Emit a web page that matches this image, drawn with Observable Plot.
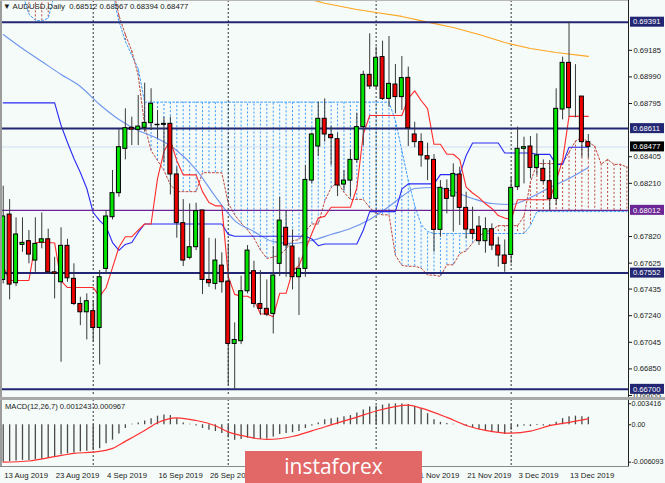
<!DOCTYPE html>
<html><head><meta charset="utf-8">
<script src="https://cdn.jsdelivr.net/npm/d3@7"></script>
<script src="https://cdn.jsdelivr.net/npm/@observablehq/plot@0.6"></script>
<style>
html,body{margin:0;padding:0;background:#f4fbf8;}
#root{position:relative;width:665px;height:483px;overflow:hidden;background:#f4fbf8;font-family:"Liberation Sans",Arial,sans-serif;color:#111;}
#root svg{position:absolute;left:0;}
.abs{position:absolute;}
</style></head><body><div id="root"></div>
<script>
// ---------- data ----------
const dateLabels = ["13 Aug 2019","23 Aug 2019","4 Sep 2019","16 Sep 2019","26 Sep 2019","8 Oct 2019","18 Oct 2019","30 Oct 2019","11 Nov 2019","21 Nov 2019","3 Dec 2019","13 Dec 2019"];
const dateLabelBars = [0,8,16,24,32,40,48,56,64,72,80,88];
const dateLabelShown = [true,true,true,true,true,false,false,false,true,true,true,true]; // three are fully under the watermark
const monthStartBars = [14,35,58,79];
const priceTicks = [0.69185,0.68990,0.68795,0.68405,0.68210,0.67820,0.67625,0.67435,0.67240,0.67045,0.66850,0.66655];
const macdTicks = [0.003416, 0, -0.006093];
const navyLevels = [0.69391,0.68611,0.67552,0.66700];
const purpleLevel = 0.68012;
const bidPrice = 0.68477;

const openP = [
0.67502,0.67981,0.67478,0.67759,0.67786,0.67644,0.67776,0.67800,0.67558,0.67485,
0.67752,0.67510,0.67326,0.67265,0.67273,0.67150,0.67583,0.67962,0.68138,0.68463,
0.68617,0.68602,0.68617,0.68651,0.68639,0.68646,0.68646,0.68275,0.67918,0.67664,
0.67742,0.68011,0.67502,0.67473,0.67607,0.67490,0.67033,0.67053,0.67419,0.67566,
0.67326,0.67290,0.67253,0.67620,0.67884,0.67747,0.67522,0.67583,0.68230,0.68480,
0.68683,0.68565,0.68534,0.68201,0.68230,0.68382,0.68622,0.69005,0.68920,0.69135,
0.68829,0.68934,0.68842,0.68983,0.68568,0.68512,0.68409,0.68382,0.67869,0.68169,
0.68113,0.68275,0.68030,0.67869,0.67893,0.67786,0.67874,0.67754,0.67681,0.67685,
0.68182,0.68463,0.68480,0.68323,0.68316,0.68226,0.68096,0.68751,0.69093,0.68846,
0.68846,0.68512];
const highP = [
0.68189,0.68091,0.67957,0.67957,0.67864,0.67957,0.67993,0.67874,0.67668,0.67884,
0.67800,0.67620,0.67375,0.67400,0.67351,0.67571,0.68011,0.68304,0.68604,0.68756,
0.68695,0.68854,0.68944,0.68903,0.68744,0.68695,0.68695,0.68328,0.68091,0.68059,
0.68064,0.68011,0.67808,0.67803,0.67700,0.67766,0.67187,0.67529,0.67754,0.67639,
0.67571,0.67502,0.67747,0.68108,0.68011,0.67869,0.67664,0.68341,0.68578,0.68805,
0.68829,0.68626,0.68578,0.68304,0.68455,0.68724,0.69032,0.69306,0.69208,0.69252,
0.69286,0.69081,0.69140,0.69062,0.68658,0.68573,0.68504,0.68421,0.68230,0.68235,
0.68353,0.68328,0.68145,0.68035,0.67967,0.67957,0.67913,0.67815,0.67795,0.68255,
0.68622,0.68548,0.68553,0.68573,0.68382,0.68377,0.68903,0.69135,0.69391,0.69080,
0.68846,0.68567];
const lowP = [
0.67473,0.67356,0.67453,0.67705,0.67620,0.67558,0.67730,0.67546,0.67363,0.66899,
0.67485,0.67314,0.67167,0.67062,0.67045,0.66879,0.67546,0.67942,0.68108,0.68382,
0.68487,0.68487,0.68585,0.68597,0.68536,0.68358,0.68125,0.67808,0.67600,0.67649,
0.67717,0.67395,0.67448,0.67429,0.67405,0.66728,0.66700,0.67028,0.67400,0.67297,
0.67241,0.67233,0.67106,0.67527,0.67522,0.67429,0.67241,0.67522,0.68206,0.68406,
0.68512,0.68341,0.68113,0.68157,0.68108,0.68358,0.68487,0.68898,0.68903,0.68817,
0.68768,0.68719,0.68744,0.68480,0.68470,0.68328,0.68230,0.67705,0.67815,0.67986,
0.67852,0.67901,0.67803,0.67795,0.67754,0.67698,0.67717,0.67595,0.67558,0.67620,
0.68157,0.68206,0.68243,0.68267,0.68206,0.68011,0.68047,0.68675,0.68695,0.68690,
0.68400,0.68394];
const closeP = [
0.67967,0.67468,0.67835,0.67774,0.67688,0.67766,0.67800,0.67558,0.67546,0.67752,
0.67514,0.67326,0.67265,0.67346,0.67150,0.67522,0.67967,0.68138,0.68475,0.68614,
0.68604,0.68626,0.68653,0.68793,0.68636,0.68639,0.68275,0.67918,0.67644,0.67742,
0.68006,0.67502,0.67478,0.67644,0.67485,0.67033,0.67062,0.67419,0.67717,0.67326,
0.67290,0.67248,0.67534,0.67937,0.67754,0.67522,0.67583,0.68235,0.68568,0.68683,
0.68568,0.68541,0.68194,0.68230,0.68382,0.68622,0.69005,0.68920,0.69130,0.68829,
0.68939,0.68842,0.68981,0.68614,0.68512,0.68414,0.68385,0.67869,0.68177,0.68096,
0.68279,0.68030,0.67871,0.67839,0.67786,0.67874,0.67754,0.67681,0.67620,0.68177,
0.68463,0.68475,0.68323,0.68414,0.68226,0.68096,0.68756,0.69093,0.68761,0.68846,
0.68512,0.68477];

const tenkan = [
0.67600,0.67498,0.67498,0.67498,0.67498,0.67776,0.67776,0.67776,0.67773,0.67495,
0.67446,0.67446,0.67446,0.67446,0.67446,0.67382,0.67445,0.67592,0.67742,0.67818,
0.67818,0.67867,0.67912,0.67912,0.68245,0.68443,0.68526,0.68376,0.68272,0.68272,
0.68272,0.68149,0.68070,0.68045,0.68045,0.67528,0.67396,0.67382,0.67382,0.67356,
0.67254,0.67252,0.67233,0.67404,0.67404,0.67568,0.67607,0.67724,0.67842,0.67956,
0.67968,0.68035,0.68035,0.68035,0.68035,0.68176,0.68570,0.68707,0.68707,0.68707,
0.68707,0.68707,0.68707,0.68832,0.68888,0.68817,0.68758,0.68496,0.68496,0.68423,
0.68423,0.68384,0.68182,0.68139,0.68105,0.68060,0.68026,0.67974,0.67956,0.67943,
0.68090,0.68090,0.68090,0.68090,0.68090,0.68090,0.68231,0.68378,0.68701,0.68701,
0.68701,0.68701];
const kijun = [
0.68800,0.68800,0.68800,0.68800,0.68800,0.68800,0.68800,0.68800,0.68800,0.68634,
0.68509,0.68392,0.68289,0.68172,0.67996,0.67937,0.67893,0.67776,0.67718,0.67762,
0.67776,0.67850,0.67912,0.67912,0.67912,0.67912,0.67912,0.67912,0.67912,0.67912,
0.67912,0.67912,0.67912,0.67912,0.67912,0.67836,0.67822,0.67822,0.67822,0.67822,
0.67822,0.67822,0.67822,0.67822,0.67822,0.67822,0.67822,0.67822,0.67802,0.67753,
0.67765,0.67765,0.67765,0.67765,0.67765,0.67765,0.67866,0.68003,0.68003,0.68003,
0.68003,0.68003,0.68167,0.68206,0.68206,0.68206,0.68206,0.68206,0.68274,0.68274,
0.68274,0.68274,0.68414,0.68506,0.68506,0.68506,0.68506,0.68506,0.68432,0.68432,
0.68432,0.68432,0.68432,0.68422,0.68422,0.68422,0.68349,0.68349,0.68475,0.68475,
0.68475,0.68475];
const spanA = [
0.69650,0.69650,0.69650,0.69650,0.69650,0.69650,0.69650,0.69650,0.69650,0.69650,
0.69650,0.69650,0.69650,0.69650,0.69650,0.69650,0.69650,0.69650,0.69440,0.69300,
0.69180,0.69000,0.68634,0.68450,0.68377,0.68304,0.68200,0.68149,0.68149,0.68149,
0.68149,0.68288,0.68288,0.68288,0.68287,0.68065,0.67978,0.67919,0.67868,0.67809,
0.67721,0.67660,0.67669,0.67684,0.67730,0.67790,0.67797,0.67859,0.67912,0.67912,
0.68079,0.68178,0.68219,0.68144,0.68092,0.68092,0.68092,0.68031,0.67991,0.67979,
0.67979,0.67682,0.67609,0.67602,0.67602,0.67589,0.67538,0.67537,0.67528,0.67613,
0.67613,0.67695,0.67715,0.67773,0.67822,0.67855,0.67867,0.67900,0.67900,0.67900,
0.67900,0.67971,0.68218,0.68355,0.68355,0.68355,0.68355,0.68355,0.68437,0.68519,
0.68547,0.68512,0.68482,0.68351,0.68385,0.68349,0.68349,0.68329];
const spanB = [
0.69600,0.69600,0.69600,0.69600,0.69450,0.69405,0.69400,0.69420,0.69600,0.69600,
0.69600,0.69600,0.69600,0.69600,0.69600,0.69600,0.69600,0.69600,0.69400,0.69250,
0.69150,0.69050,0.68805,0.68805,0.68805,0.68805,0.68805,0.68805,0.68805,0.68805,
0.68805,0.68805,0.68805,0.68805,0.68805,0.68805,0.68805,0.68805,0.68805,0.68805,
0.68805,0.68805,0.68805,0.68805,0.68805,0.68805,0.68805,0.68805,0.68805,0.68805,
0.68805,0.68805,0.68805,0.68805,0.68805,0.68805,0.68805,0.68805,0.68805,0.68805,
0.68805,0.68670,0.68450,0.68231,0.68047,0.67908,0.67857,0.67842,0.67842,0.67842,
0.67842,0.67842,0.67842,0.67842,0.67842,0.67842,0.67842,0.67842,0.67842,0.67842,
0.67842,0.67842,0.67901,0.68003,0.68003,0.68003,0.68003,0.68003,0.68003,0.68003,
0.68003,0.68003,0.68003,0.68003,0.68003,0.68003,0.68003,0.68003];
const maBlueBars = [0,3,6,9,12,15,18,21,24,27,30,33,36,39,42,45,48,51,54,57,60,62,64,67,70,73,76,79,82,85,88,91];
const maBlueVals = [0.69301,0.69198,0.69103,0.69008,0.68920,0.68788,0.68678,0.68597,0.68538,0.68451,0.68311,0.68113,0.67937,0.67857,0.67783,0.67769,0.67791,0.67835,0.67879,0.67945,0.68040,0.68113,0.68172,0.68179,0.68150,0.68099,0.68062,0.68055,0.68106,0.68179,0.68245,0.68326];
const maOrangeBars = [46,50,55,58,62,66,70,74,78,82,86,91];
const maOrangeVals = [0.69580,0.69530,0.69484,0.69462,0.69433,0.69391,0.69352,0.69301,0.69242,0.69198,0.69169,0.69140];
const macdHist = [
-0.0061,-0.0060,-0.0059,-0.0058,-0.0058,-0.0057,-0.0056,-0.0055,-0.0052,-0.0049,
-0.0047,-0.0046,-0.0044,-0.0043,-0.0042,-0.0039,-0.0031,-0.0025,-0.0015,-0.0006,
0.0001,0.0003,0.0006,0.0010,0.0014,0.0016,0.0015,0.0010,0.0003,0.0001,
-0.0002,-0.0006,-0.0009,-0.0011,-0.0014,-0.0021,-0.0025,-0.0024,-0.0022,-0.0023,
-0.0024,-0.0023,-0.0020,-0.0016,-0.0014,-0.0013,-0.0011,-0.0006,-0.0002,0.0003,
0.0008,0.0010,0.0011,0.0013,0.0015,0.0019,0.0024,0.0029,0.0030,0.0032,
0.0034,0.0034,0.0034,0.0033,0.0030,0.0026,0.0018,0.0008,0.0004,0.0002,
0.0001,0.0000,-0.0003,-0.0005,-0.0008,-0.0010,-0.0011,-0.0013,-0.0016,-0.0009,
-0.0004,-0.0002,-0.0003,-0.0001,-0.0002,-0.0002,0.0004,0.0010,0.0013,0.0014,
0.0013,0.001243];
const signalBars = [0,4,8,11,14,17,19,22,24,27,30,33,35,38,41,45,48,52,55,58,63,65,69,72,75,79,82,85,88,91];
const signalVals = [-0.00609,-0.00590,-0.00520,-0.00465,-0.00446,-0.00385,-0.00270,-0.00093,0.00033,0.00114,0.00070,-0.00015,-0.00115,-0.00195,-0.00239,-0.00191,-0.00100,0.00030,0.00124,0.00225,0.00320,0.00270,0.00120,-0.00011,-0.00090,-0.00137,-0.00104,-0.00015,0.00040,0.000967];

// ---------- tables for the library ----------
const candles = openP.map((o,i)=>({i,o,h:highP[i],l:lowP[i],c:closeP[i]}));
const cloud = spanA.map((a,i)=>({i,a,b:spanB[i]}));
const series = arr => arr.map((v,i)=>({i,v}));
const pairs = (bs,vs) => bs.map((b,k)=>({i:b,v:vs[k]}));
const dateTable = dateLabelBars.map((b,k)=>({i:b,label:dateLabels[k],shown:dateLabelShown[k]})).filter(d=>d.shown);

const GREEN = "#00e400", RED = "#ee0000";
const HATCH_BLUE = "#3d9bff", HATCH_RED = "#c0473f";
const NAVY = "#232773", PURPLE = "#6b2595";
const xDomain = [-0.109, 97.25];
const FONT = "Liberation Sans, Arial, sans-serif";
const baseStyle = {background:"transparent", fontFamily:FONT, fontSize:"7.6px", color:"#1a1a1a", overflow:"visible"};

function boxLabels(items){
  return (index, scales, values, dim) => {
    const g = d3.create("svg:g");
    const x0 = dim.width - dim.marginRight + 1;
    for (const it of items){
      const y = scales.y(it.v);
      g.append("rect").attr("x", x0+1).attr("y", y-5).attr("width", 34).attr("height", 10).attr("fill", it.bg);
      g.append("text").attr("x", x0+4).attr("y", y).attr("dy","0.35em").attr("fill","#fff")
        .attr("text-anchor","start").attr("font-size","7.6px").attr("font-family",FONT).text(it.v.toFixed(5));
    }
    return g.node();
  };
}

const root = document.getElementById("root");

const main = Plot.plot({
  width: 665, height: 396,
  marginLeft: 2, marginRight: 37, marginTop: 0, marginBottom: 1,
  x: {domain: xDomain, axis: null},
  y: {domain: [0.66655, 0.6955], axis: null},
  color: {type: "identity"},
  style: baseStyle,
  marks: [
    Plot.ruleY([bidPrice], {stroke: "#dde7f3", strokeWidth: 1.5}),
    Plot.ruleX(cloud, {x: "i", y1: "a", y2: "b", stroke: d => d.b > d.a ? HATCH_BLUE : HATCH_RED, strokeDasharray: "2,2", strokeWidth: 1, clip: true}),
    Plot.line(cloud, {x: "i", y: "b", stroke: HATCH_BLUE, strokeDasharray: "2,2", strokeWidth: 1, clip: true}),
    Plot.line(cloud, {x: "i", y: "a", stroke: HATCH_RED, strokeDasharray: "2,2", strokeWidth: 1, clip: true}),
    Plot.ruleX(monthStartBars, {x: d => d, stroke: "#333", strokeDasharray: "2,2", strokeWidth: 1}),
    Plot.line(pairs(maOrangeBars, maOrangeVals), {x: "i", y: "v", stroke: "#ffa51f", strokeWidth: 1.2, clip: true}),
    Plot.line(pairs(maBlueBars, maBlueVals), {x: "i", y: "v", stroke: "#6f94f0", strokeWidth: 1.1, curve: "monotone-x", clip: true}),
    Plot.line(series(kijun), {x: "i", y: "v", stroke: "#2a2af5", strokeWidth: 1.1, clip: true}),
    Plot.line(series(tenkan), {x: "i", y: "v", stroke: "#ff2b2b", strokeWidth: 1.1, clip: true}),
    Plot.ruleY([purpleLevel], {stroke: PURPLE, strokeWidth: 1.2}),
    Plot.ruleY(navyLevels, {stroke: NAVY, strokeWidth: 2}),
    Plot.ruleX(candles, {x: "i", y1: "l", y2: "h", stroke: "#3a3a3a", strokeWidth: 1, clip: true}),
    Plot.rect(candles, {x1: d => d.i - 0.31, x2: d => d.i + 0.31, y1: "o", y2: "c",
      fill: d => d.c > d.o ? GREEN : (d.c < d.o ? RED : "#3a3a3a"),
      stroke: d => d.c === d.o ? "#555" : "#000", strokeWidth: 1, clip: true}),
    Plot.axisY({anchor: "right", ticks: priceTicks, tickFormat: d3.format(".5f"), tickSize: 3, tickPadding: 2, fontSize: 7.6, label: null, color: "#1a1a1a"}),
    boxLabels([
      ...navyLevels.map(v => ({v, bg: NAVY})),
      {v: purpleLevel, bg: PURPLE},
      {v: bidPrice, bg: "#000"}
    ])
  ]
});
main.style.top = "0px";
root.appendChild(main);

const macd = Plot.plot({
  width: 665, height: 67,
  marginLeft: 2, marginRight: 37, marginTop: 4.3, marginBottom: 4.3,
  x: {domain: xDomain, axis: null},
  y: {domain: [-0.006093, 0.003416], axis: null},
  style: baseStyle,
  marks: [
    Plot.ruleX(monthStartBars, {x: d => d, stroke: "#333", strokeDasharray: "2,2", strokeWidth: 1, insetTop: -4.3, insetBottom: -4.3}),
    Plot.ruleX(series(macdHist), {x: "i", y1: 0, y2: "v", stroke: "#4a4a4a", strokeWidth: 1.3}),
    Plot.line(pairs(signalBars, signalVals), {x: "i", y: "v", stroke: "#ff3030", strokeWidth: 1.2, curve: "monotone-x"}),
    Plot.axisY({anchor: "right", ticks: macdTicks, tickFormat: d => d === 0 ? "0.00" : d.toFixed(6), tickSize: 2, tickPadding: 1, fontSize: 7.1, label: null, color: "#1a1a1a"})
  ]
});
macd.style.top = "399px";
root.appendChild(macd);

const dates = Plot.plot({
  width: 665, height: 17,
  marginLeft: 2, marginRight: 37, marginTop: 0, marginBottom: 0,
  x: {domain: xDomain, axis: null},
  style: baseStyle,
  marks: [
    Plot.text(dateTable, {x: "i", text: "label", textAnchor: "start", fontSize: 7.8, fill: "#1a1a1a", dx: 1})
  ]
});
dates.style.top = "466px";
root.appendChild(dates);

// frame decorations
function box(l,t,w,h,bg){const d=document.createElement("div");d.className="abs";Object.assign(d.style,{left:l+"px",top:t+"px",width:w+"px",height:h+"px",background:bg});root.appendChild(d);return d;}
box(0,0,2,467,"#9c9c9c");
box(0,0,628,1,"#b8b8b8");
box(628,0,1,467,"#222");
box(0,397,665,2.5,"#a9a9a9");
box(0,466,629,1,"#8a8a8a");

const title = document.createElement("div");
title.className = "abs";
Object.assign(title.style,{left:"3px",top:"2px",fontSize:"7.8px",fontFamily:FONT,color:"#1a1a1a",whiteSpace:"pre"});
title.textContent = "\u25BC AUDUSD,Daily  0.68512 0.68567 0.68394 0.68477";
root.appendChild(title);

const mlab = document.createElement("div");
mlab.className = "abs";
Object.assign(mlab.style,{left:"5px",top:"402px",fontSize:"7.6px",fontFamily:FONT,color:"#1a1a1a",whiteSpace:"pre"});
mlab.textContent = "MACD(12,26,7) 0.001243 0.000967";
root.appendChild(mlab);

const wm = box(245,451,177,32,"#e26767");
Object.assign(wm.style,{color:"#fff",fontFamily:"Open Sans, Liberation Sans, sans-serif",fontSize:"21px",lineHeight:"31px",textAlign:"center"});
wm.textContent = "instaforex";
</script></body></html>
